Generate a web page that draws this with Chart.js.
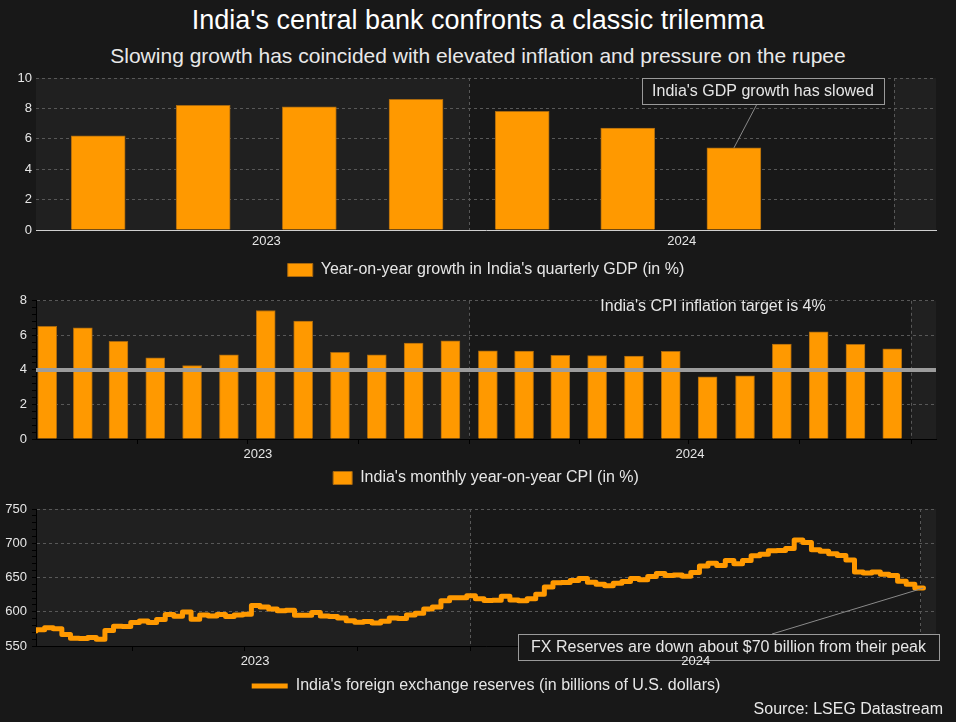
<!DOCTYPE html>
<html>
<head>
<meta charset="utf-8">
<title>India's central bank confronts a classic trilemma</title>
<script src="https://cdn.jsdelivr.net/npm/chart.js@4.4.1/dist/chart.umd.min.js"></script>
<style>
  html, body { margin: 0; padding: 0; background: #181818; }
  body { position: relative; width: 956px; height: 722px; overflow: hidden; font-family: "Liberation Sans", Arial, sans-serif; }
  .title { position: absolute; left: 0; width: 956px; top: 7px; text-align: center; font-size: 27px; line-height: 27px; color: #ffffff; }
  .subtitle { position: absolute; left: 0; width: 956px; top: 45px; text-align: center; font-size: 21px; line-height: 21px; color: #e8e8e8; }
  .source { position: absolute; right: 13px; top: 701px; font-size: 16px; line-height: 16px; color: #e8e8e8; }
  canvas { position: absolute; left: 0; }
</style>
</head>
<body>
<div class="title">India's central bank confronts a classic trilemma</div>
<div class="subtitle">Slowing growth has coincided with elevated inflation and pressure on the rupee</div>
<canvas id="gdp" width="956" height="222" style="top:66px"></canvas>
<canvas id="cpi" width="956" height="208" style="top:288px"></canvas>
<canvas id="fx" width="956" height="226" style="top:496px"></canvas>
<div class="source">Source: LSEG Datastream</div>
<script>
// quarterly GDP, y/y %
const gdpQuarters = ['2023 Q1', '2023 Q2', '2023 Q3', '2023 Q4', '2024 Q1', '2024 Q2', '2024 Q3'];
const gdpGrowth = [6.2, 8.2, 8.1, 8.6, 7.8, 6.7, 5.4];

// monthly CPI, y/y %
const cpiMonths = ['2023-01', '2023-02', '2023-03', '2023-04', '2023-05', '2023-06',
                   '2023-07', '2023-08', '2023-09', '2023-10', '2023-11', '2023-12',
                   '2024-01', '2024-02', '2024-03', '2024-04', '2024-05', '2024-06',
                   '2024-07', '2024-08', '2024-09', '2024-10', '2024-11', '2024-12'];
const cpiValues = [6.52, 6.44, 5.66, 4.70, 4.25, 4.87, 7.44, 6.83, 5.02, 4.87, 5.55, 5.69,
                   5.10, 5.09, 4.85, 4.83, 4.80, 5.08, 3.60, 3.65, 5.49, 6.21, 5.48, 5.22];
const cpiTarget = 4;

// weekly FX reserves, bn USD, first week ending 2023-01-13
const fxFirstWeek = '2023-01-13';
const fxReserves = [
  572.0, 573.7, 576.8, 575.3, 566.9, 561.3, 560.9, 562.4, 560.0, 572.8, 578.8, 578.4,
  584.2, 586.4, 584.2, 588.8, 596.0, 593.5, 599.5, 589.1, 595.1, 593.7, 596.1, 593.2,
  595.1, 596.3, 609.0, 607.0, 603.9, 601.5, 602.2, 594.9, 594.9, 598.9, 593.9, 593.0,
  590.7, 586.9, 584.7, 585.9, 583.5, 586.1, 590.8, 590.3, 595.4, 597.9, 604.0, 606.9,
  616.0, 620.4, 620.4,
  623.2, 618.9, 616.6, 616.7, 622.5, 617.2, 616.1, 619.1, 625.6, 636.1, 642.5, 642.6,
  645.6, 648.6, 643.2, 640.3, 637.9, 641.6, 644.2, 648.7, 646.7, 651.5, 655.8, 652.9,
  653.7, 652.0, 657.2, 666.9, 670.9, 667.4, 674.9, 670.1, 674.7, 681.7, 684.0, 689.2,
  689.5, 692.3, 704.9, 701.2, 690.4, 688.3, 684.8, 682.1, 675.7, 657.9, 656.6, 658.1,
  654.9, 652.9, 644.4, 640.3,
  634.6
];

const yearLabels = ['2023', '2024'];
const yearLabelDays = [190, 548];

const ORANGE = '#ff9900';
const ORANGE_EDGE = '#a8680e';
const GRID = '#585858';
const TEXT = '#e6e6e6';
const FONT = '"Liberation Sans", Arial, sans-serif';

Chart.defaults.font.family = FONT;
Chart.defaults.color = TEXT;

// days since 2023-01-01
const BASE = Date.UTC(2023, 0, 1);
function dayOf(y, m, d) { return (Date.UTC(y, m - 1, d) - BASE) / 86400000; }
function quarterMid(q) {
  const y = +q.slice(0, 4), n = +q.slice(6);
  return (dayOf(y, n * 3 - 2, 1) + dayOf(y, n * 3 + 1, 1)) / 2;
}
function monthMid(s) {
  const y = +s.slice(0, 4), m = +s.slice(5, 7);
  return (dayOf(y, m, 1) + dayOf(y, m + 1, 1)) / 2;
}
const fxStart = dayOf(+fxFirstWeek.slice(0, 4), +fxFirstWeek.slice(5, 7), +fxFirstWeek.slice(8, 10));
const fxDays = fxReserves.map((v, i) => fxStart + 7 * i);

const quarterStarts = [];
for (let y = 2023; y <= 2025; y++) for (let m = 1; m <= 10; m += 3) quarterStarts.push(dayOf(y, m, 1));
const yearLines = [dayOf(2024, 1, 1), dayOf(2025, 1, 1)];

function timeAxis(min, max, withTicks, axisColor) {
  return {
    type: 'linear', min: min, max: max, offset: false,
    afterBuildTicks(scale) {
      const t = quarterStarts.filter(v => v >= min && v <= max).concat(yearLabelDays);
      t.sort((a, b) => a - b);
      scale.ticks = t.map(v => ({value: v}));
    },
    afterFit(scale) { scale.height = 22; },
    ticks: {
      autoSkip: false, maxRotation: 0, color: TEXT, font: {size: 13}, padding: withTicks ? 3 : 4, z: 1,
      callback(v) { const i = yearLabelDays.indexOf(v); return i >= 0 ? yearLabels[i] : ''; }
    },
    grid: {
      offset: false,
      color: c => (c.tick && yearLines.includes(c.tick.value)) ? GRID : 'transparent',
      drawTicks: withTicks, tickLength: 5,
      tickColor: c => (c.tick && quarterStarts.includes(c.tick.value)) ? '#000000' : 'transparent'
    },
    border: {color: axisColor, width: 1, dash: [3, 3]}
  };
}

function valueAxis(min, max, major, minor, framed) {
  const isMajor = v => Math.abs(v / major - Math.round(v / major)) < 1e-6;
  return {
    min: min, max: max,
    afterBuildTicks(scale) {
      const t = [];
      for (let v = min; v <= max + 1e-9; v += minor) t.push({value: Math.round(v * 1000) / 1000});
      scale.ticks = t;
    },
    afterFit(scale) { scale.width = 36; },
    ticks: {
      autoSkip: false, color: TEXT, font: {size: 13}, padding: framed ? 5 : 4,
      callback: v => isMajor(v) ? String(v) : ''
    },
    grid: {
      color: c => (c.tick && isMajor(c.tick.value) && c.tick.value !== min) ? GRID : 'transparent',
      drawTicks: framed, tickLength: 4, tickColor: '#000000'
    },
    border: {display: framed, color: '#000000', width: 1, dash: [3, 3]}
  };
}

function legendOpts(boxW, boxH, pad, extra) {
  return {
    position: 'bottom', fullSize: false,
    labels: Object.assign({color: TEXT, font: {size: 16}, boxWidth: boxW, boxHeight: boxH, padding: pad}, extra || {})
  };
}

// lighter shading for 2023 and 2025
const yearBands = {
  id: 'yearBands',
  beforeDraw(chart) {
    const {ctx, chartArea: a, scales: {x}} = chart;
    const b24 = x.getPixelForValue(yearLines[0]);
    const b25 = x.getPixelForValue(yearLines[1]);
    ctx.save();
    ctx.fillStyle = '#202020';
    ctx.fillRect(a.left, a.top, b24 - a.left, a.bottom - a.top);
    ctx.fillRect(b25, a.top, a.right - b25, a.bottom - a.top);
    ctx.restore();
  }
};

function drawNote(ctx, text, bx, by, bw, bh, from, to) {
  ctx.save();
  ctx.strokeStyle = '#8a8a8a';
  ctx.lineWidth = 1;
  ctx.beginPath();
  ctx.moveTo(from[0], from[1]);
  ctx.lineTo(to[0], to[1]);
  ctx.stroke();
  if (bw) {
    ctx.fillStyle = '#181818';
    ctx.fillRect(bx, by, bw, bh);
    ctx.strokeStyle = '#9a9a9a';
    ctx.strokeRect(bx + 0.5, by + 0.5, bw, bh);
  }
  ctx.fillStyle = TEXT;
  ctx.font = '16px ' + FONT;
  ctx.textAlign = 'center';
  ctx.textBaseline = 'middle';
  ctx.fillText(text, bx + bw / 2, by + bh / 2 + 1);
  ctx.restore();
}

const gdpNote = {
  id: 'gdpNote',
  afterDatasetsDraw(chart) {
    const {ctx, chartArea: a, scales: {x, y}} = chart;
    const i = gdpGrowth.length - 1;
    const tx = x.getPixelForValue(quarterMid(gdpQuarters[i]));
    const ty = y.getPixelForValue(gdpGrowth[i]);
    const bx = a.right - 294, by = a.top;
    drawNote(ctx, "India's GDP growth has slowed", bx, by, 242, 26, [bx + 115, by + 26], [tx, ty]);
  }
};

const cpiNote = {
  id: 'cpiNote',
  afterDatasetsDraw(chart) {
    const {ctx, chartArea: a} = chart;
    ctx.save();
    ctx.fillStyle = TEXT;
    ctx.font = '16px ' + FONT;
    ctx.textAlign = 'center';
    ctx.textBaseline = 'middle';
    ctx.fillText("India's CPI inflation target is 4%", a.left + 677, a.top + 6);
    ctx.restore();
  }
};

const fxNote = {
  id: 'fxNote',
  afterDatasetsDraw(chart) {
    const {ctx, chartArea: a, scales: {x, y}} = chart;
    const i = fxReserves.length - 1;
    const tx = x.getPixelForValue(fxDays[i]);
    const ty = y.getPixelForValue(fxReserves[i]);
    const bx = a.right - 418, by = a.bottom - 12;
    drawNote(ctx, 'FX Reserves are down about $70 billion from their peak', bx, by, 421, 26, [bx + 254, by], [tx, ty]);
  }
};

new Chart(document.getElementById('gdp'), {
  type: 'bar',
  data: {
    datasets: [{
      label: "Year-on-year growth in India's quarterly GDP (in %)",
      data: gdpQuarters.map((q, i) => ({x: quarterMid(q), y: gdpGrowth[i]})),
      backgroundColor: ORANGE,
      borderColor: ORANGE_EDGE,
      borderWidth: 1,
      barThickness: 54
    }]
  },
  options: {
    responsive: false,
    animation: false,
    layout: {padding: {top: 12, right: 20, bottom: 0, left: 0}},
    plugins: {
      legend: legendOpts(25, 13, 10),
      tooltip: {enabled: false}
    },
    scales: {
      x: timeAxis(-8.6, 767.2, false, '#cfcfcf'),
      y: valueAxis(0, 10, 2, 2, false)
    }
  },
  plugins: [yearBands, gdpNote]
});

new Chart(document.getElementById('cpi'), {
  type: 'bar',
  data: {
    datasets: [{
      type: 'line',
      label: 'Inflation target',
      data: [{x: 6.2, y: cpiTarget}, {x: 751.7, y: cpiTarget}],
      borderColor: '#9c9c9c',
      borderWidth: 4,
      pointRadius: 0,
      order: 0
    }, {
      label: "India's monthly year-on-year CPI (in %)",
      data: cpiMonths.map((m, i) => ({x: monthMid(m), y: cpiValues[i]})),
      backgroundColor: ORANGE,
      borderColor: ORANGE_EDGE,
      borderWidth: 1,
      barThickness: 19,
      order: 1
    }]
  },
  options: {
    responsive: false,
    animation: false,
    layout: {padding: {top: 11, right: 20, bottom: 0, left: 0}},
    plugins: {
      legend: legendOpts(19, 13, 9, {filter: item => item.datasetIndex === 1}),
      tooltip: {enabled: false}
    },
    scales: {
      x: timeAxis(6.2, 751.7, true, '#000000'),
      y: valueAxis(0, 8, 2, 0.4, true)
    }
  },
  plugins: [yearBands, cpiNote]
});

new Chart(document.getElementById('fx'), {
  type: 'line',
  data: {
    datasets: [{
      label: "India's foreign exchange reserves (in billions of U.S. dollars)",
      data: fxReserves.map((v, i) => ({x: fxDays[i], y: v})),
      borderColor: ORANGE,
      backgroundColor: ORANGE,
      borderWidth: 5,
      pointRadius: 0,
      pointBorderWidth: 5,
      stepped: 'after',
      borderJoinStyle: 'round',
      borderCapStyle: 'round'
    }]
  },
  options: {
    responsive: false,
    animation: false,
    layout: {padding: {top: 13, right: 20, bottom: 18, left: 0}},
    plugins: {
      legend: legendOpts(36, 13, 10, {usePointStyle: true, pointStyle: 'line', pointStyleWidth: 36}),
      tooltip: {enabled: false}
    },
    scales: {
      x: timeAxis(12, 743.2, true, '#000000'),
      y: valueAxis(550, 750, 50, 10, true)
    }
  },
  plugins: [yearBands, fxNote]
});
</script>
</body>
</html>
